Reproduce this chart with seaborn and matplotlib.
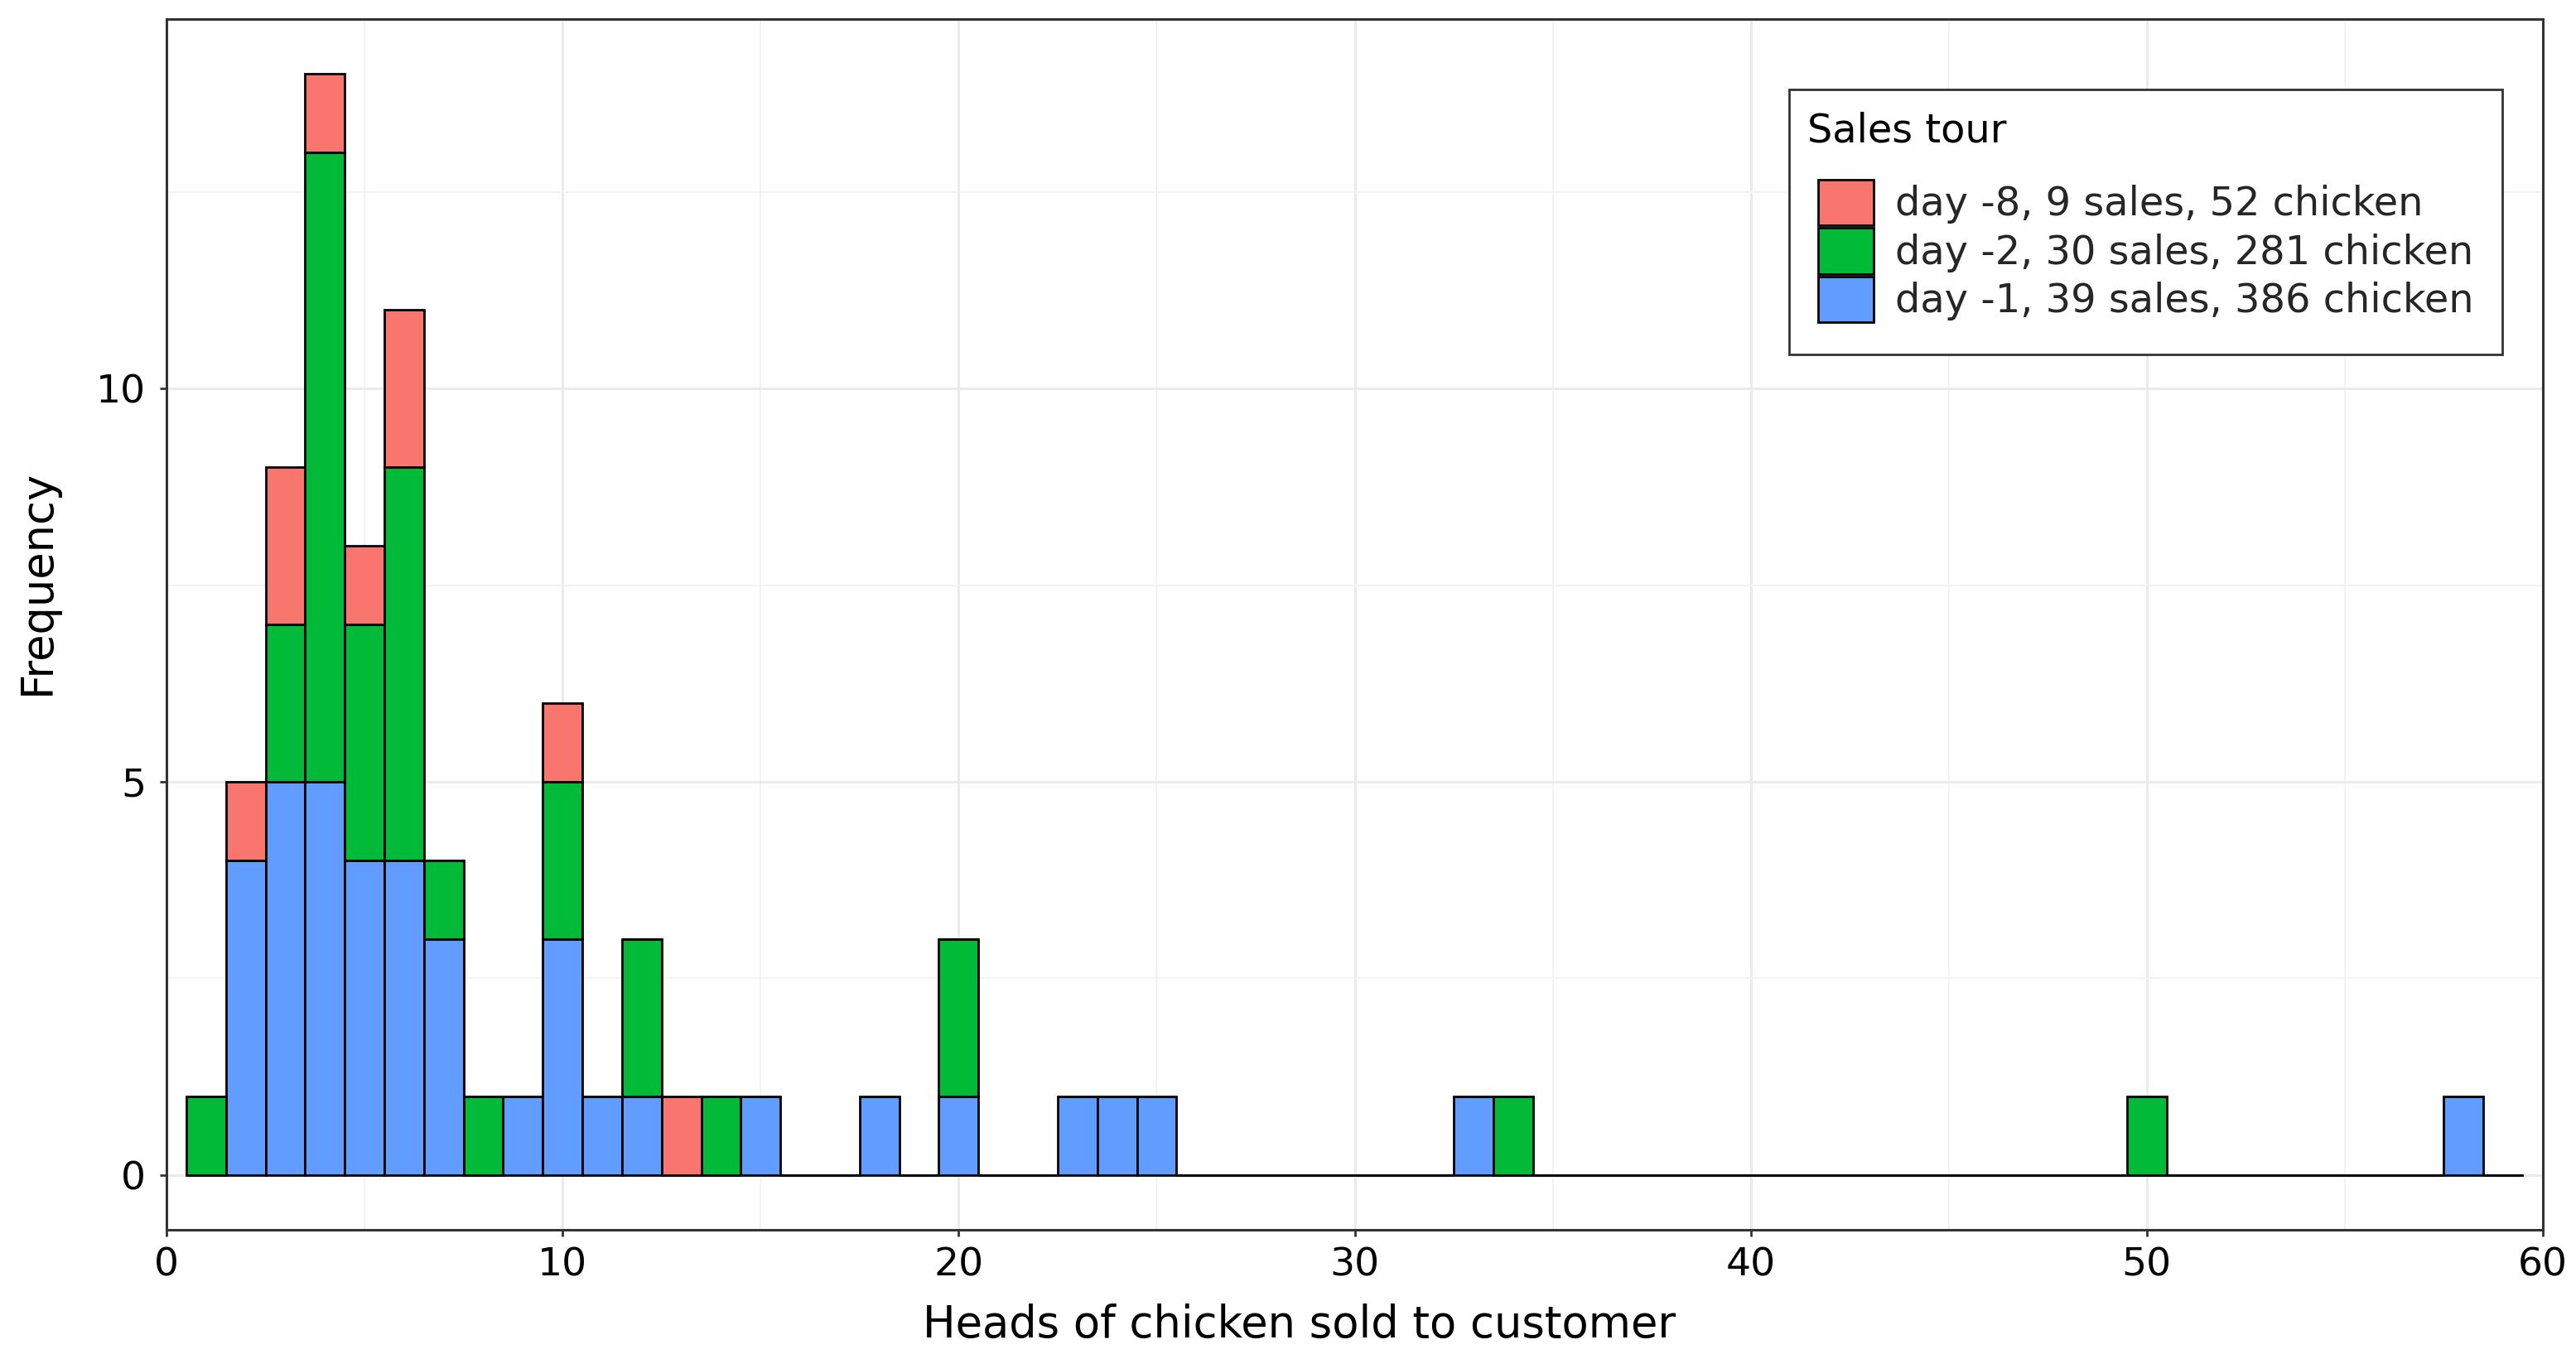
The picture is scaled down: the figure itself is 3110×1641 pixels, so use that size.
import numpy as np
import pandas as pd
import matplotlib
matplotlib.use("Agg")
import matplotlib.pyplot as plt
from matplotlib.patches import Patch, Rectangle
from matplotlib.ticker import MultipleLocator
import seaborn as sns

# ---- data ----
tours = ["day -8, 9 sales, 52 chicken",
         "day -2, 30 sales, 281 chicken",
         "day -1, 39 sales, 386 chicken"]
colors = ["#F8766D", "#00BA38", "#619CFF"]

heads_d8 = [2, 3, 4, 5, 6, 10, 13]
count_d8 = [1, 2, 1, 1, 2, 1, 1]

heads_d2 = [1, 3, 4, 5, 6, 7, 8, 10, 12, 14, 20, 34, 50]
count_d2 = [1, 2, 8, 3, 5, 1, 1, 2, 2, 1, 2, 1, 1]

heads_d1 = [2, 3, 4, 5, 6, 7, 9, 10, 11, 12, 15, 18, 20, 23, 24, 25, 33, 58]
count_d1 = [4, 5, 5, 4, 4, 3, 1, 3, 1, 1, 1, 1, 1, 1, 1, 1, 1, 1]

x_ticks = [0, 10, 20, 30, 40, 50, 60]
y_ticks = [0, 5, 10]

frames = []
for tour, h, c in zip(tours, [heads_d8, heads_d2, heads_d1], [count_d8, count_d2, count_d1]):
    frames.append(pd.DataFrame({"tour": tour, "heads": h, "n": c}))
df = pd.concat(frames, ignore_index=True)

# ---- figure ----
sns.set_theme(style="white")
plt.rcParams["font.family"] = ["DejaVu Sans"]

W, H = 3110, 1641
fig = plt.figure(figsize=(W / 100, H / 100), dpi=100)
ax = fig.add_axes([201 / W, 1 - 1485 / H, (3070 - 201) / W, (1485 - 23) / H])

sns.histplot(data=df, x="heads", weights="n", hue="tour", hue_order=tours,
             palette=colors, multiple="stack", binwidth=1, binrange=(0.5, 59.5),
             edgecolor="black", linewidth=2.0, alpha=1.0, legend=False, ax=ax)

ax.set_xlim(0, 60)
ax.set_ylim(-0.7, 14.7)
ax.set_xticks(x_ticks)
ax.set_yticks(y_ticks)
ax.xaxis.set_minor_locator(MultipleLocator(5))
ax.yaxis.set_minor_locator(MultipleLocator(2.5))
ax.set_axisbelow(True)
ax.grid(which="major", color="#EBEBEB", linewidth=2.2)
ax.grid(which="minor", color="#F3F3F3", linewidth=1.4)

for s in ax.spines.values():
    s.set_color("#333333")
    s.set_linewidth(2.2)

ax.tick_params(axis="both", which="major", length=6, width=2, color="#333333",
               labelsize=34, labelcolor="black", direction="out",
               bottom=True, left=True)
ax.tick_params(axis="x", which="major", pad=9)
ax.tick_params(axis="y", which="major", pad=12)
ax.tick_params(axis="both", which="minor", length=0)

ax.set_xlabel("Heads of chicken sold to customer", fontsize=38, color="black")
ax.set_ylabel("Frequency", fontsize=38, color="black")
ax.xaxis.set_label_coords(0.4765, -0.061)
ax.yaxis.set_label_coords(-0.0453, 0.535)

# ---- legend: frame, title and entries ----
ax.add_patch(Rectangle((2160 / W, 1 - 428 / H), (3021 - 2160) / W, (428 - 108) / H,
                       transform=fig.transFigure, facecolor="white", clip_on=False,
                       edgecolor="#333333", linewidth=2.0, zorder=4.5))
ax.text(2182 / W, 1 - 171.7 / H, "Sales tour", fontsize=34.5, color="black",
        ha="left", va="baseline", transform=fig.transFigure, zorder=6)

handles = [Patch(facecolor=c, edgecolor="black", linewidth=2.0) for c in colors]
leg = ax.legend(handles, tours, loc="upper left",
                bbox_to_anchor=(2194.5 / W, 1 - 216.7 / H), bbox_transform=fig.transFigure,
                borderaxespad=0, borderpad=0, fontsize=34.5,
                frameon=False, labelspacing=0.063, handlelength=1.4,
                handleheight=1.406, handletextpad=0.56)
leg.set_zorder(7)

fig.savefig("out.png", dpi=100, facecolor="white")
